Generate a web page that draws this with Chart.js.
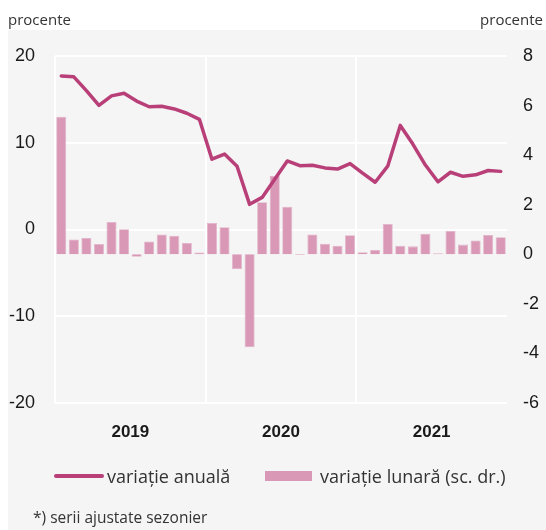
<!DOCTYPE html>
<html>
<head>
<meta charset="utf-8">
<script src="https://cdn.jsdelivr.net/npm/chart.js@4.4.1/dist/chart.umd.min.js"></script>
<style>
  html, body { margin:0; padding:0; background:#fff; }
  #wrap { position:relative; width:546px; height:530px; overflow:hidden; font-family:"Open Sans","Noto Sans",sans-serif; color:#333; }
  #bg { position:absolute; left:8px; top:30px; width:538px; height:500px; background:#f5f5f5; }
  canvas { position:absolute; left:0; top:0; }
  .t { position:absolute; white-space:nowrap; }
</style>
</head>
<body>
<div id="wrap">
  <div id="bg"></div>
  <canvas id="c" width="546" height="530"></canvas>
  <div class="t" style="left:8px;top:8px;font-size:15px;line-height:22px;">procente</div>
  <div class="t" style="right:3px;top:8px;font-size:15px;line-height:22px;">procente</div>
  <div style="position:absolute;left:54px;top:474px;width:50px;height:4px;border-radius:2px;background:#b83f78;"></div>
  <div class="t" style="left:107px;top:464px;font-size:18px;line-height:24px;">variație anuală</div>
  <div style="position:absolute;left:265px;top:471px;width:47px;height:10px;background:#d898b6;"></div>
  <div class="t" style="left:320px;top:464px;font-size:18px;line-height:24px;">variație lunară (sc. dr.)</div>
  <div class="t" style="left:33px;top:506px;font-size:15.5px;line-height:22px;">*) serii ajustate sezonier</div>
</div>
<script>
const months = [
  '2019-01','2019-02','2019-03','2019-04','2019-05','2019-06','2019-07','2019-08','2019-09','2019-10','2019-11','2019-12',
  '2020-01','2020-02','2020-03','2020-04','2020-05','2020-06','2020-07','2020-08','2020-09','2020-10','2020-11','2020-12',
  '2021-01','2021-02','2021-03','2021-04','2021-05','2021-06','2021-07','2021-08','2021-09','2021-10','2021-11','2021-12'
];
const years = ['2019','2020','2021'];
const annualChange = [
  17.7, 17.6, 16.0, 14.3, 15.4, 15.7, 14.8, 14.15, 14.2, 13.9, 13.4, 12.7,
  8.1, 8.7, 7.3, 2.9, 3.7, 5.8, 7.9, 7.35, 7.4, 7.1, 6.97, 7.6,
  6.5, 5.45, 7.3, 12.0, 9.85, 7.43, 5.5, 6.6, 6.13, 6.3, 6.8, 6.7
];
const monthlyChange = [
  5.55, 0.6, 0.66, 0.42, 1.3, 1.01, -0.1, 0.52, 0.8, 0.75, 0.46, 0.07,
  1.26, 1.09, -0.6, -3.75, 2.1, 3.16, 1.92, -0.03, 0.8, 0.43, 0.34, 0.77,
  0.08, 0.17, 1.22, 0.34, 0.32, 0.83, 0.04, 0.94, 0.39, 0.56, 0.78, 0.69
];
const leftTicks = [-20, -10, 0, 10, 20];
const rightTicks = [-6, -4, -2, 0, 2, 4, 6, 8];

const narrowFamily = "'Liberation Sans Narrow','Liberation Sans',sans-serif";
const tickFont = { family: narrowFamily, size: 18 };
const yearFont = { family: narrowFamily, size: 17, weight: 'bold' };

new Chart(document.getElementById('c'), {
  data: {
    labels: months,
    datasets: [
      {
        type: 'line', label: 'variație anuală', data: annualChange, yAxisID: 'y', xAxisID: 'x',
        borderColor: '#b83f78', borderWidth: 3.5, pointRadius: 0, tension: 0, order: 0,
        borderJoinStyle: 'round', borderCapStyle: 'round'
      },
      {
        type: 'bar', label: 'variație lunară (sc. dr.)', data: monthlyChange, yAxisID: 'y1', xAxisID: 'x',
        backgroundColor: '#d898b6', borderColor: '#e2b3c9', borderWidth: 0.8,
        barPercentage: 0.8, categoryPercentage: 1.0, order: 1
      }
    ]
  },
  options: {
    responsive: false, animation: false,
    layout: { padding: { top: 56, bottom: 77, left: 0, right: 0 } },
    plugins: { legend: { display: false }, tooltip: { enabled: false } },
    scales: {
      x: {
        type: 'category', position: 'bottom', offset: true,
        grid: {
          offset: true, drawTicks: false, lineWidth: 2,
          color: (ctx) => ([0, 12, 24, 36].includes(ctx.index) ? '#ffffff' : 'rgba(0,0,0,0)')
        },
        border: { display: false },
        ticks: { display: false },
        afterFit: (s) => { s.height = 0; }
      },
      xYear: {
        type: 'category', position: 'bottom', labels: years, offset: true,
        grid: { display: false, drawTicks: false },
        border: { display: false },
        ticks: { font: yearFont, color: '#1a1a1a', padding: 19, maxRotation: 0 },
        afterFit: (s) => { s.height = 50; }
      },
      y: {
        position: 'left', min: -20, max: 20,
        afterBuildTicks: (s) => { s.ticks = leftTicks.map(v => ({ value: v })); },
        grid: { color: '#ffffff', lineWidth: 2, drawTicks: false },
        border: { display: false },
        ticks: { font: tickFont, color: '#1a1a1a', padding: 20 },
        afterFit: (s) => { s.width = 55; }
      },
      y1: {
        position: 'right', min: -6, max: 8,
        afterBuildTicks: (s) => { s.ticks = rightTicks.map(v => ({ value: v })); },
        grid: { display: false, drawTicks: false },
        border: { display: false },
        ticks: { font: tickFont, color: '#1a1a1a', padding: 16 },
        afterFit: (s) => { s.width = 39; }
      }
    }
  }
});
</script>
</body>
</html>
